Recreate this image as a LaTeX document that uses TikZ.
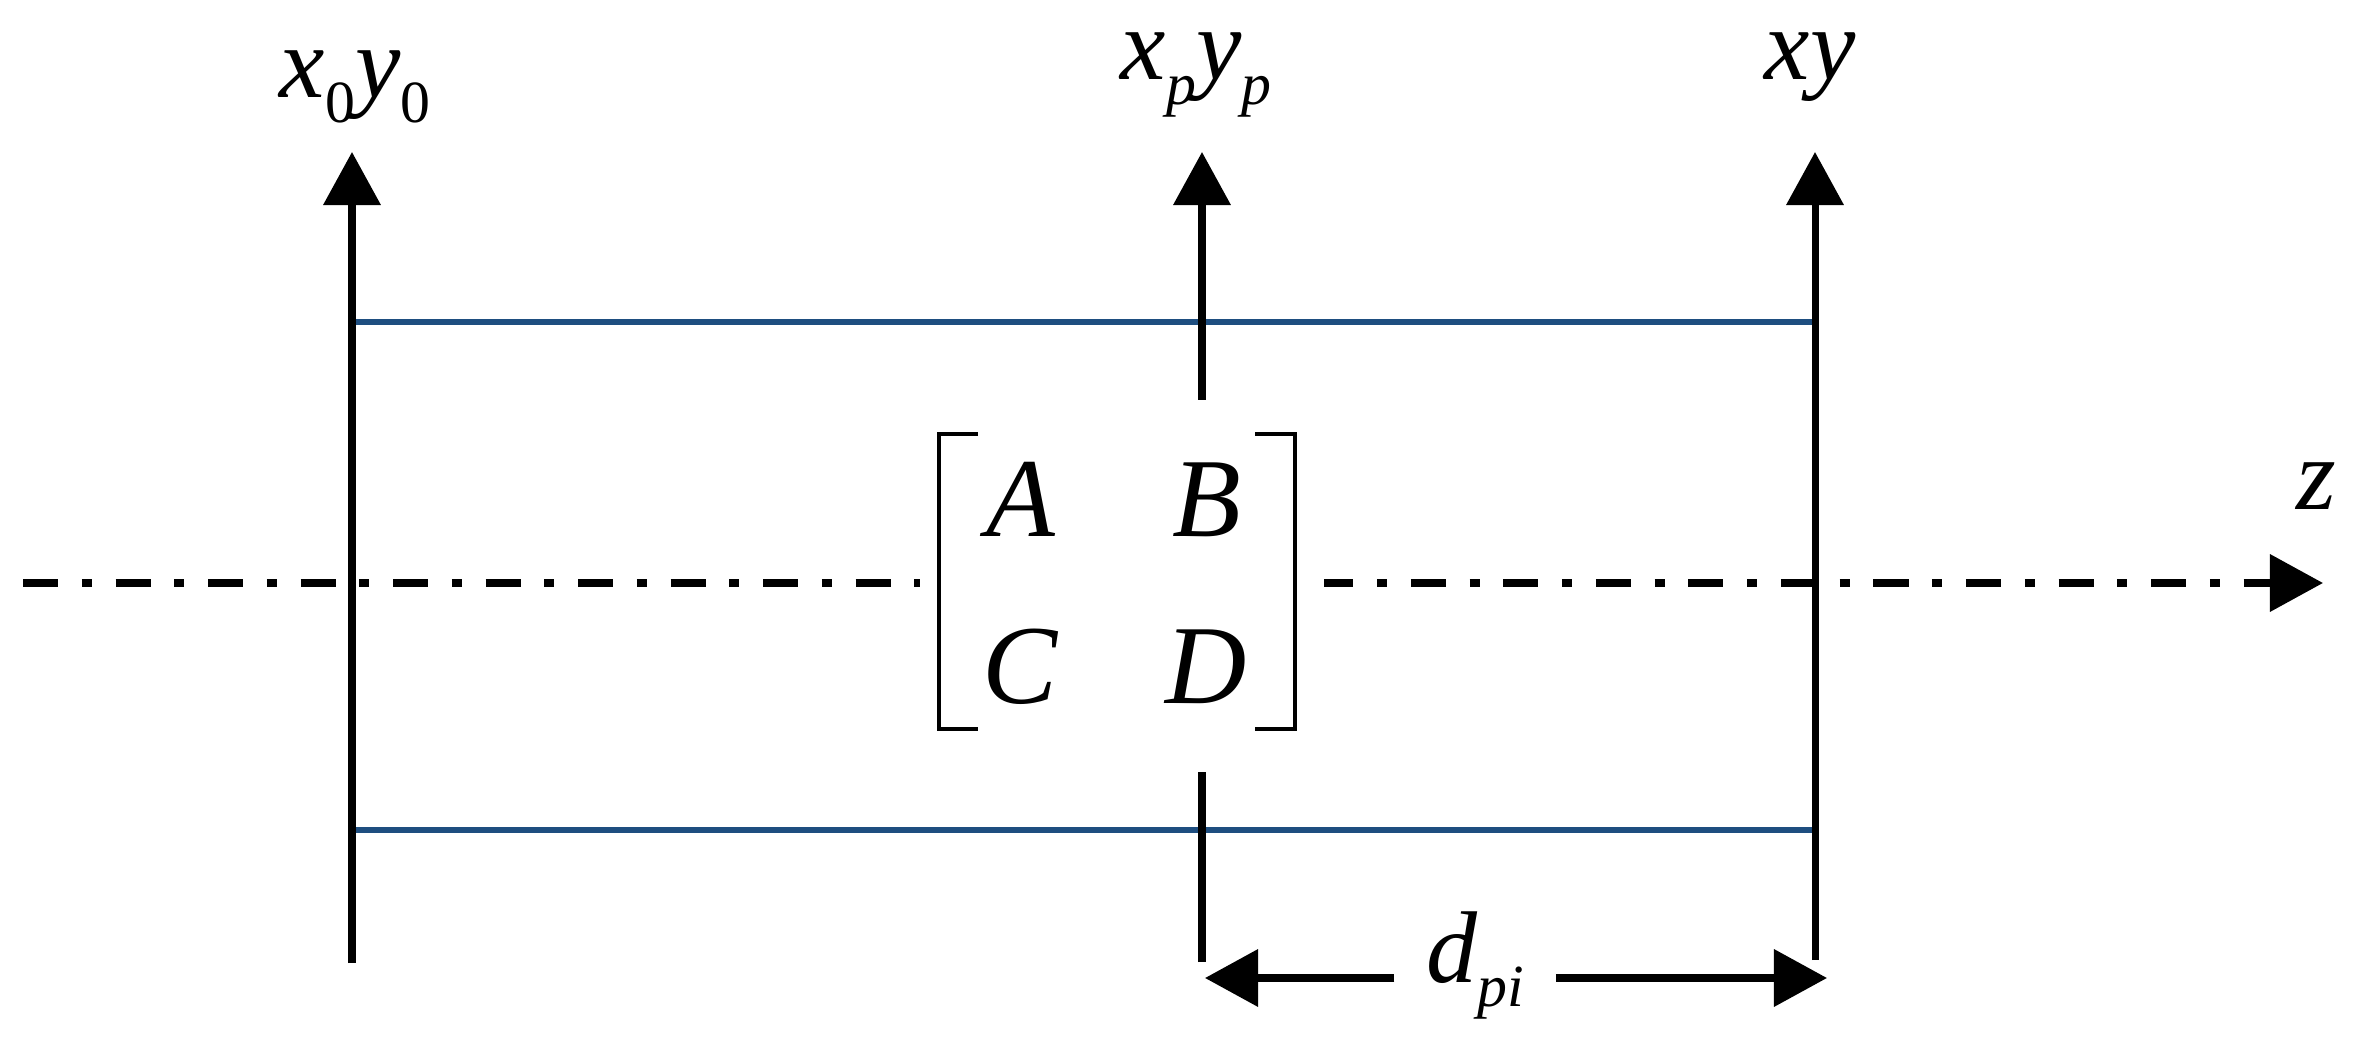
\documentclass[tikz,border=0pt]{standalone}
\usepackage{fontspec}
\setmainfont{Liberation Serif}
\usetikzlibrary{arrows.meta}
\definecolor{tubeblue}{RGB}{30,78,128}
\newcommand\lowsub[1]{\raisebox{-7pt}{\fontsize{17}{19}\selectfont #1}}
\begin{document}
\begin{tikzpicture}[x=0.01cm,y=-0.01cm,
  every node/.style={inner sep=0pt, font=\fontsize{32}{38}\selectfont\itshape},
  toplabel/.style={anchor=base, font=\fontsize{29}{34}\selectfont\itshape},
  blackline/.style={line width=2pt, line cap=butt},
  tipend/.style={-{Triangle[width=0.56cm,length=0.53cm]}},
  bluebar/.style={line width=1.7pt, draw=tubeblue},
  brk/.style={line width=1.4pt},
  dashdot/.style={line width=2pt, dash pattern=on 9.96pt off 6.75pt on 2.85pt off 6.75pt}]
\useasboundingbox[fill=white] (0,0) rectangle (2360,1043);
% key points
\coordinate (Ltop) at (352,152);  \coordinate (Lbot) at (352,963);
\coordinate (Mtop) at (1202,152); \coordinate (Mbot) at (1202,962);
\coordinate (Rtop) at (1815,152); \coordinate (Rbot) at (1815,960);
\coordinate (TL) at (352,322);  \coordinate (TR) at (1815,322);
\coordinate (BL) at (352,830);  \coordinate (BR) at (1815,830);
\coordinate (zs) at (23,583);   \coordinate (ze) at (2323,583);
\coordinate (dL) at (1205,978); \coordinate (dR) at (1827,978);
% blue tube lines
\draw[bluebar] (TL) -- (TR);
\draw[bluebar] (BL) -- (BR);
% optical axis
\draw[dashdot,tipend] (zs) -- (ze);
% vertical planes
\draw[blackline,tipend] (Lbot) -- (Ltop);
\draw[blackline,tipend] (Mbot) -- (Mtop);
\draw[blackline,tipend] (Rbot) -- (Rtop);
% matrix block (white mask)
\node[fill=white, minimum width=4.04cm, minimum height=3.72cm] (M) at (1122,586) {};
\draw[brk] (978,434) -- (939,434) -- (939,729) -- (978,729);
\draw[brk] (1255,434) -- (1295,434) -- (1295,729) -- (1255,729);
\node[anchor=base] (A) at (1021,537) {A};
\node[anchor=base] (B) at (1207,537) {B};
\node[anchor=base] (C) at (1020,703) {C};
\node[anchor=base] (D) at (1206,703) {D};
% labels
\node[toplabel] (lab0) at (355,98) {x\lowsub{\upshape 0}y\lowsub{\upshape 0}};
\node[toplabel] (labp) at (1196,80) {x\lowsub{p}y\lowsub{p}};
\node[toplabel] (labxy) at (1810,80) {xy};
\node[toplabel] (labz) at (2316,510) {z};
% distance
\node[toplabel, minimum width=1.6cm] (dpi) at (1475,982) {d\lowsub{pi}};
\draw[blackline,tipend] (dpi.west |- dL) -- (dL);
\draw[blackline,tipend] (dpi.east |- dR) -- (dR);
\end{tikzpicture}
\end{document}
